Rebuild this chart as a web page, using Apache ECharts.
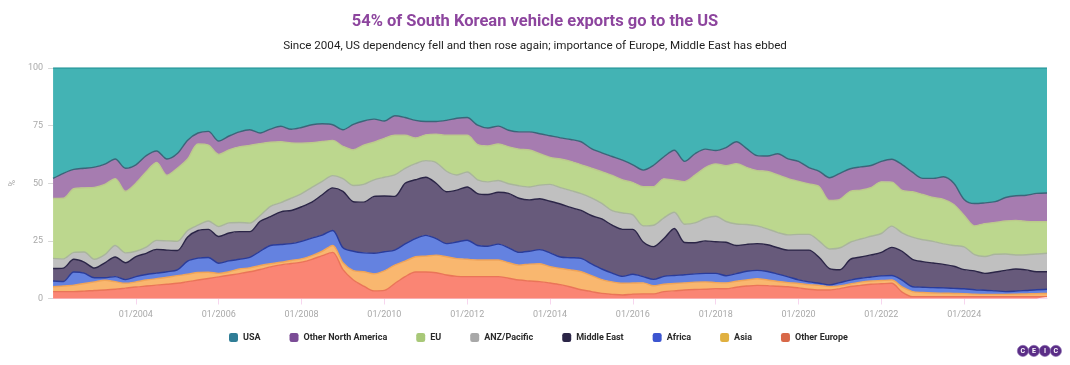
<!DOCTYPE html>
<html>
<head>
<meta charset="utf-8">
<script src="https://cdn.jsdelivr.net/npm/echarts@6/dist/echarts.min.js"></script>
<style>
html,body{margin:0;padding:0;background:#fff;}
#chart{width:1070px;height:365px;}
</style>
</head>
<body>
<div id="chart"></div>
<script>
// Quarterly sample dates (category axis)
const categories = [
'2002-01','2002-04','2002-07','2002-10','2003-01','2003-04','2003-07','2003-10',
'2004-01','2004-04','2004-07','2004-10','2005-01','2005-04','2005-07','2005-10',
'2006-01','2006-04','2006-07','2006-10','2007-01','2007-04','2007-07','2007-10',
'2008-01','2008-04','2008-07','2008-10','2009-01','2009-04','2009-07','2009-10',
'2010-01','2010-04','2010-07','2010-10','2011-01','2011-04','2011-07','2011-10',
'2012-01','2012-04','2012-07','2012-10','2013-01','2013-04','2013-07','2013-10',
'2014-01','2014-04','2014-07','2014-10','2015-01','2015-04','2015-07','2015-10',
'2016-01','2016-04','2016-07','2016-10','2017-01','2017-04','2017-07','2017-10',
'2018-01','2018-04','2018-07','2018-10','2019-01','2019-04','2019-07','2019-10',
'2020-01','2020-04','2020-07','2020-10','2021-01','2021-04','2021-07','2021-10',
'2022-01','2022-04','2022-07','2022-10','2023-01','2023-04','2023-07','2023-10',
'2024-01','2024-04','2024-07','2024-10','2025-01','2025-04','2025-07','2025-10',
'2026-01'];

const tickLabels = ['2004-01','2006-01','2008-01','2010-01','2012-01','2014-01','2016-01','2018-01','2020-01','2022-01','2024-01'];

const seriesNames = ['USA','Other North America','EU','ANZ/Pacific','Middle East','Africa','Asia','Other Europe'];

const usa = [47.9,45.7,44.0,43.5,43.0,41.7,39.5,43.5,42.0,38.0,
36.0,39.5,37.1,31.3,28.2,27.5,31.7,29.5,27.7,26.8,
28.2,26.5,25.3,26.6,25.8,24.6,24.2,24.6,26.8,24.5,
23.0,22.2,23.0,20.7,21.5,22.7,23.2,23.2,22.7,21.8,
21.5,24.8,26.0,25.2,27.0,27.7,27.7,28.5,29.4,30.3,
31.0,32.0,35.0,36.8,38.4,40.0,42.0,44.3,42.2,38.5,
35.7,40.5,37.2,35.2,35.8,34.5,32.0,35.0,38.0,38.2,
37.2,39.4,40.5,43.2,44.8,47.6,45.7,43.7,42.9,42.3,
40.5,39.6,41.9,45.2,47.9,47.9,47.2,50.0,57.0,58.8,
58.5,58.0,56.2,55.4,55.2,54.4,54.2];

const otherNorthAmerica = [8.7,10.8,8.4,8.5,8.8,8.8,8.5,10.0,8.0,7.0,
5.0,7.0,6.4,8.2,4.8,6.0,5.8,6.0,6.5,6.8,
4.6,5.7,6.7,5.9,6.8,7.8,7.7,6.8,7.2,11.0,
10.5,10.0,7.5,8.5,7.7,7.7,5.8,5.5,6.5,7.4,
7.7,8.4,7.8,7.8,7.2,7.5,7.9,8.7,9.4,9.2,
9.5,10.0,8.5,8.2,8.2,8.5,7.7,7.2,9.3,9.6,
13.0,8.8,9.3,8.0,5.8,7.9,9.5,8.2,6.5,6.7,
9.2,8.6,8.7,7.1,6.7,9.9,11.3,9.8,10.1,9.6,
8.9,9.9,11.2,8.5,7.0,8.3,9.8,9.2,7.0,9.7,
9.0,9.0,10.2,10.7,11.4,12.3,12.5];

const eu = [26.0,26.3,27.6,27.8,31.2,30.5,29.0,26.7,29.5,32.7,
33.8,28.5,31.7,31.0,35.2,32.9,31.3,31.7,32.8,33.7,
31.2,27.8,26.4,24.0,21.9,19.4,17.3,15.3,14.0,15.5,
17.0,16.3,16.9,17.2,14.3,11.1,11.2,12.3,15.6,17.2,
15.9,15.3,15.6,15.8,16.0,15.9,16.0,13.6,11.7,12.4,
12.7,12.5,12.8,13.7,15.3,14.4,14.0,17.0,16.7,16.9,
13.9,18.5,20.7,22.0,22.7,24.2,26.2,24.7,24.0,24.9,
25.0,24.4,23.0,21.9,23.6,21.0,21.0,22.1,21.2,21.1,
22.4,19.1,18.4,19.7,19.6,19.0,19.3,17.8,13.6,12.5,
14.3,13.8,14.3,15.0,14.4,14.0,13.7];

const anzPacific = [4.4,4.0,3.0,4.4,3.8,3.5,5.0,4.3,2.3,2.7,
3.9,4.0,4.0,2.8,2.3,3.6,4.3,4.4,4.0,3.7,
2.5,4.5,4.0,5.3,5.7,6.4,5.8,5.3,5.5,7.0,
7.7,7.2,8.1,9.3,6.5,7.0,7.2,9.0,8.9,6.6,
6.5,6.0,5.5,5.1,4.2,5.4,5.6,5.9,7.3,7.1,
7.3,7.3,7.7,6.8,6.3,7.1,6.3,7.0,9.3,9.0,
7.0,7.9,8.6,9.8,11.1,9.0,9.3,8.6,7.7,6.9,
6.6,6.6,6.8,6.8,7.1,8.5,9.5,7.4,7.8,8.1,
8.2,9.2,8.0,9.6,9.5,9.4,8.9,9.0,9.9,7.0,
7.3,7.7,7.1,6.1,6.6,7.7,8.0];

const middleEast = [5.4,5.8,5.5,4.8,4.2,6.5,8.5,7.3,8.7,9.2,
10.3,9.4,8.4,10.5,12.0,12.2,11.6,12.1,12.0,11.2,
13.0,12.5,14.2,14.4,15.0,15.6,17.5,18.5,24.5,21.5,
22.0,24.7,24.2,23.3,26.3,25.5,25.2,24.0,22.5,22.5,
23.1,22.5,22.4,22.5,23.6,23.5,22.3,22.1,22.4,23.0,
21.8,20.8,21.0,21.7,20.8,20.4,19.5,15.0,14.2,16.4,
20.4,14.0,13.5,14.1,13.7,14.5,12.2,11.7,11.6,11.6,
11.4,11.6,12.9,13.8,11.2,7.1,5.6,9.0,9.2,9.6,
10.2,12.2,12.5,11.9,11.1,10.7,10.2,9.6,8.3,8.2,
7.3,8.2,9.2,9.6,8.9,7.8,7.6];

const africa = [2.5,2.0,5.7,4.5,1.8,1.1,2.2,1.6,2.3,2.4,
2.4,2.4,2.5,5.7,6.2,6.4,4.4,4.7,4.2,4.5,
6.2,7.9,7.7,7.3,7.6,7.6,7.0,6.5,6.5,8.4,
8.2,8.9,8.3,6.5,7.5,7.9,9.0,7.2,5.7,7.2,
8.3,6.3,6.0,6.9,6.5,5.5,5.6,6.1,6.0,5.0,
5.3,5.8,5.1,4.6,3.8,3.0,3.8,2.7,2.8,3.4,
3.5,3.5,3.6,3.7,4.0,3.1,3.3,3.8,3.6,3.7,
3.2,2.5,1.6,1.2,0.9,0.7,1.4,1.7,1.7,1.7,
2.0,2.0,3.0,2.1,2.3,2.3,2.3,2.2,2.1,1.9,
1.8,1.5,1.2,1.3,1.5,1.7,1.8];

const asia = [2.1,2.4,2.8,3.3,3.7,4.2,3.3,2.1,2.2,2.6,
2.8,3.0,3.3,3.2,3.3,2.7,1.5,1.5,2.0,1.7,
1.7,1.4,1.1,1.3,1.4,1.6,1.9,3.0,3.0,4.1,
6.2,7.4,8.5,8.0,6.7,6.6,6.9,7.6,7.9,7.7,
7.5,7.2,7.2,7.2,6.7,6.5,7.3,7.8,7.1,7.0,
7.4,7.8,6.9,6.0,5.4,5.1,4.8,4.8,3.5,3.2,
3.2,3.1,3.2,3.2,2.6,2.6,2.6,2.6,2.9,2.4,
2.1,1.8,1.9,2.0,2.0,1.5,1.2,1.1,1.4,1.4,
1.4,1.4,2.2,2.2,1.8,1.6,1.5,1.4,1.3,1.1,
1.0,1.0,1.0,1.1,1.2,1.3,1.4];

const otherEurope = [3.0,3.0,3.0,3.2,3.5,3.7,4.0,4.5,5.0,5.4,
5.8,6.2,6.6,7.3,8.0,8.7,9.4,10.1,10.8,11.6,
12.6,13.7,14.6,15.2,15.8,17.0,18.6,20.0,12.5,8.0,
5.4,3.3,3.5,6.5,9.5,11.5,11.5,11.2,10.2,9.6,
9.5,9.5,9.5,9.5,8.8,8.0,7.6,7.3,6.7,6.0,
5.0,3.8,3.0,2.2,1.8,1.5,1.9,2.0,2.0,3.0,
3.3,3.7,3.9,4.0,4.3,4.2,4.9,5.4,5.7,5.6,
5.3,5.1,4.6,4.0,3.7,3.7,4.3,5.2,5.7,6.2,
6.4,6.6,2.8,0.8,0.8,0.8,0.8,0.8,0.8,0.8,
0.8,0.8,0.8,0.8,0.8,0.8,0.8];

// stacking order bottom -> top
const layers = [
  {name:'Other Europe', data: otherEurope, legend:'#d86848', line:'#ea7458', fill:'#fa8574'},
  {name:'Asia', data: asia, legend:'#e0b040', line:'#f0a458', fill:'#f9b76f'},
  {name:'Africa', data: africa, legend:'#3c55d0', line:'#2a3c9a', fill:'#6482e0'},
  {name:'Middle East', data: middleEast, legend:'#2b2547', line:'#2b2547', fill:'#675a7b'},
  {name:'ANZ/Pacific', data: anzPacific, legend:'#a8a8a8', line:'#a9b59c', fill:'#c0c0c0'},
  {name:'EU', data: eu, legend:'#a8c878', line:'#bcc98c', fill:'#bcd78e'},
  {name:'Other North America', data: otherNorthAmerica, legend:'#7b4c96', line:'#3b6579', fill:'#a67cb0'},
  {name:'USA', data: usa, legend:'#2f7d96', line:'#2b9a9d', fill:'#43b3b4'}
];

const FONT = "Roboto, 'Noto Sans', sans-serif";

const chart = echarts.init(document.getElementById('chart'));
chart.setOption({
  animation: false,
  backgroundColor: '#ffffff',
  title: {
    text: '54% of South Korean vehicle exports go to the US',
    subtext: 'Since 2004, US dependency fell and then rose again; importance of Europe, Middle East has ebbed',
    left: 'center',
    top: 8,
    itemGap: 10,
    textStyle: {fontFamily: FONT, fontSize: 16.5, fontWeight: 'bold', color: '#8d459e'},
    subtextStyle: {fontFamily: FONT, fontSize: 11.6, color: '#1e1e1e'}
  },
  legend: {
    data: seriesNames,
    left: 224,
    top: 328,
    icon: 'roundRect',
    itemWidth: 9,
    itemHeight: 9,
    itemGap: 29,
    itemStyle: {borderWidth: 0},
    textStyle: {fontFamily: FONT, fontSize: 9, fontWeight: 'bold', color: '#2a2a2a'}
  },
  grid: {left: 52, right: 23, top: 68, bottom: 66.5, containLabel: false},
  xAxis: {
    type: 'category',
    data: categories,
    boundaryGap: false,
    axisLine: {show: true, lineStyle: {color: '#f7d6ef', width: 1}},
    axisTick: {show: true, length: 6, lineStyle: {color: '#f7d6ef'},
      interval: (i, v) => tickLabels.indexOf(v) >= 0},
    axisLabel: {
      interval: (i, v) => tickLabels.indexOf(v) >= 0,
      formatter: v => v.slice(5) + '/' + v.slice(0, 4),
      color: '#a9a9a9', fontFamily: FONT, fontSize: 9, margin: 12
    },
    splitLine: {show: false}
  },
  yAxis: {
    type: 'value',
    min: 0, max: 100, interval: 25,
    name: '%',
    nameLocation: 'middle',
    nameGap: 34,
    nameRotate: 90,
    nameTextStyle: {color: '#a9a9a9', fontFamily: FONT, fontSize: 9},
    axisLine: {show: false},
    axisTick: {show: true, length: 5, lineStyle: {color: '#d8d8d8'}},
    axisLabel: {color: '#a9a9a9', fontFamily: FONT, fontSize: 9, margin: 10},
    splitLine: {show: false}
  },
  series: layers.map(l => ({
    name: l.name,
    type: 'line',
    stack: 'total',
    data: l.data,
    smooth: 0.3,
    showSymbol: false,
    symbol: 'none',
    color: l.legend,
    lineStyle: {color: l.line, width: 1.4},
    areaStyle: {color: l.fill, opacity: 1},
    emphasis: {disabled: true}
  })),
  graphic: [{
    type: 'group',
    left: 1017,
    top: 345,
    children: ['C','E','I','C'].map((ch, k) => ({
      type: 'group',
      children: [
        {type: 'circle', shape: {cx: 6 + k * 11, cy: 6, r: 5.6}, style: {fill: '#5a2d86', stroke: '#8a6ab0', lineWidth: 0.6}},
        {type: 'text', style: {text: ch, x: 6 + k * 11, y: 6, align: 'center', verticalAlign: 'middle',
          fill: '#ffffff', font: 'bold 7px Roboto, sans-serif'}}
      ]
    }))
  }]
});
</script>
</body>
</html>
